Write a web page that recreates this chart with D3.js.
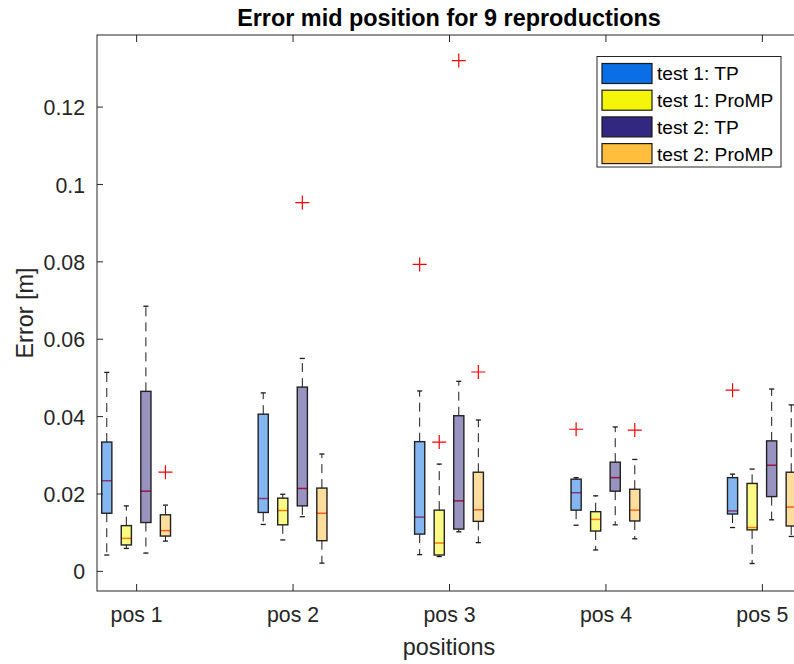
<!DOCTYPE html>
<html>
<head>
<meta charset="utf-8">
<script src="https://cdn.jsdelivr.net/npm/d3@7"></script>
<style>
  html, body { margin: 0; padding: 0; background: #fff; }
  svg { display: block; font-family: "Liberation Sans", Arial, Helvetica, sans-serif; }
</style>
</head>
<body>
<svg id="chart" width="794" height="664"></svg>
<script>
// Positions along the x axis
const positions = ["pos 1", "pos 2", "pos 3", "pos 4", "pos 5"];

// Series (one box per series at each position)
const seriesNames = ["test 1: TP", "test 1: ProMP", "test 2: TP", "test 2: ProMP"];
const seriesColors = ["#0a6ee6", "#f5f50a", "#322882", "#ffbe3c"];

// Box statistics per series, one value per position [m]
const test1TP_hi  = [0.0513, 0.0460, 0.0465, 0.0241, 0.0250];
const test1TP_q3  = [0.0333, 0.0405, 0.0334, 0.0237, 0.0241];
const test1TP_med = [0.0233, 0.0187, 0.0139, 0.0202, 0.0155];
const test1TP_q1  = [0.0149, 0.0151, 0.0095, 0.0157, 0.0147];
const test1TP_lo  = [0.0041, 0.0120, 0.0042, 0.0118, 0.0112];
const test1TP_out = [[], [], [0.0792], [0.0366], [0.0467]];

const test1ProMP_hi  = [0.0168, 0.0198, 0.0276, 0.0194, 0.0263];
const test1ProMP_q3  = [0.0117, 0.0188, 0.0157, 0.0153, 0.0226];
const test1ProMP_med = [0.0084, 0.0156, 0.0072, 0.0133, 0.0112];
const test1ProMP_q1  = [0.0067, 0.0119, 0.0041, 0.0103, 0.0106];
const test1ProMP_lo  = [0.0058, 0.0080, 0.0037, 0.0054, 0.0019];
const test1ProMP_out = [[], [], [0.0333], [], []];

const test2TP_hi  = [0.0684, 0.0549, 0.0490, 0.0372, 0.0470];
const test2TP_q3  = [0.0464, 0.0475, 0.0401, 0.0281, 0.0336];
const test2TP_med = [0.0206, 0.0213, 0.0181, 0.0241, 0.0273];
const test2TP_q1  = [0.0125, 0.0168, 0.0108, 0.0206, 0.0192];
const test2TP_lo  = [0.0046, 0.0140, 0.0101, 0.0119, 0.0132];
const test2TP_out = [[], [0.0952], [0.1319], [], []];

const test2ProMP_hi  = [0.0170, 0.0302, 0.0390, 0.0288, 0.0429];
const test2ProMP_q3  = [0.0145, 0.0214, 0.0255, 0.0211, 0.0255];
const test2ProMP_med = [0.0104, 0.0149, 0.0158, 0.0157, 0.0165];
const test2ProMP_q1  = [0.0090, 0.0078, 0.0128, 0.0129, 0.0116];
const test2ProMP_lo  = [0.0077, 0.0020, 0.0073, 0.0083, 0.0089];
const test2ProMP_out = [[0.0255], [], [0.0514], [0.0364], []];

const yTicks = [0, 0.02, 0.04, 0.06, 0.08, 0.1, 0.12];

const seriesStats = [
  {hi: test1TP_hi, q3: test1TP_q3, med: test1TP_med, q1: test1TP_q1, lo: test1TP_lo, out: test1TP_out},
  {hi: test1ProMP_hi, q3: test1ProMP_q3, med: test1ProMP_med, q1: test1ProMP_q1, lo: test1ProMP_lo, out: test1ProMP_out},
  {hi: test2TP_hi, q3: test2TP_q3, med: test2TP_med, q1: test2TP_q1, lo: test2TP_lo, out: test2TP_out},
  {hi: test2ProMP_hi, q3: test2ProMP_q3, med: test2ProMP_med, q1: test2ProMP_q1, lo: test2ProMP_lo, out: test2ProMP_out}
];

// Layout
const axL = 97, axR = 801, axT = 35, axB = 591;
const axisColor = "#262626";
const svg = d3.select("#chart");

const x = d3.scaleLinear().domain([0.75, 5.25]).range([axL, axR]);
const y = d3.scaleLinear().domain([-0.0052, 0.1385]).range([axB, axT]);

const offsets = [-0.1875, -0.0625, 0.0625, 0.1875];
const boxW = 0.065;

// Boxes
const plot = svg.append("g");
seriesStats.forEach((s, si) => {
  const g = plot.append("g");
  positions.forEach((p, pi) => {
    const cx = pi + 1 + offsets[si];
    const xl = x(cx - boxW / 2), xr = x(cx + boxW / 2), xc = x(cx);
    const capHalf = (xr - xl) / 4;
    // whiskers, dashed, from the box out to the adjacent values
    g.append("line").attr("x1", xc).attr("x2", xc)
      .attr("y1", y(s.q3[pi])).attr("y2", y(s.hi[pi]))
      .attr("stroke", "#1a1a1a").attr("stroke-width", 1).attr("stroke-dasharray", "9,6");
    g.append("line").attr("x1", xc).attr("x2", xc)
      .attr("y1", y(s.q1[pi])).attr("y2", y(s.lo[pi]))
      .attr("stroke", "#1a1a1a").attr("stroke-width", 1).attr("stroke-dasharray", "9,6");
    // adjacent value caps
    [s.hi[pi], s.lo[pi]].forEach(v => {
      g.append("line").attr("x1", xc - capHalf).attr("x2", xc + capHalf)
        .attr("y1", y(v)).attr("y2", y(v))
        .attr("stroke", "#1a1a1a").attr("stroke-width", 1.3);
    });
    // median line (red), seen through the translucent box patch
    g.append("line").attr("x1", xl).attr("x2", xr)
      .attr("y1", y(s.med[pi])).attr("y2", y(s.med[pi]))
      .attr("stroke", "#ff0000").attr("stroke-width", 1.5);
    // box patch
    g.append("rect").attr("x", xl).attr("y", y(s.q3[pi]))
      .attr("width", xr - xl).attr("height", y(s.q1[pi]) - y(s.q3[pi]))
      .attr("fill", seriesColors[si]).attr("fill-opacity", 0.5)
      .attr("stroke", "#222").attr("stroke-width", 1.4);
    // outliers
    s.out[pi].forEach(v => {
      const ox = xc, oy = y(v), r = 7;
      g.append("path")
        .attr("d", `M${ox - r},${oy}H${ox + r}M${ox},${oy - r}V${oy + r}`)
        .attr("stroke", "#ff0000").attr("stroke-width", 1.2).attr("fill", "none");
    });
  });
});

// Axes (MATLAB style: box on, ticks pointing inward)
const axes = svg.append("g");
axes.append("rect").attr("x", axL).attr("y", axT)
  .attr("width", axR - axL).attr("height", axB - axT)
  .attr("fill", "none").attr("stroke", axisColor).attr("stroke-width", 1);

const xAxis = d3.axisBottom(x).tickValues(d3.range(1, positions.length + 1))
  .tickFormat(d => positions[d - 1]).tickSize(-7).tickPadding(16);
const gx = axes.append("g").attr("transform", `translate(0,${axB})`).call(xAxis);
gx.select(".domain").remove();
gx.selectAll(".tick line").attr("stroke", axisColor);
gx.selectAll(".tick text").attr("font-size", "21.3px").attr("fill", "#262626").attr("dy", "0.71em");

const xTop = d3.axisTop(x).tickValues(d3.range(1, positions.length + 1)).tickFormat("").tickSize(-7);
const gxt = axes.append("g").attr("transform", `translate(0,${axT})`).call(xTop);
gxt.select(".domain").remove();
gxt.selectAll(".tick line").attr("stroke", axisColor);

const yAxis = d3.axisLeft(y).tickValues(yTicks).tickFormat(d => d3.format("")(d)).tickSize(-6).tickPadding(12);
const gy = axes.append("g").attr("transform", `translate(${axL},0)`).call(yAxis);
gy.select(".domain").remove();
gy.selectAll(".tick line").attr("stroke", axisColor);
gy.selectAll(".tick text").attr("font-size", "21.3px").attr("fill", "#262626").attr("dy", "0.38em");

const yRight = d3.axisRight(y).tickValues(yTicks).tickFormat("").tickSize(-6);
const gyr = axes.append("g").attr("transform", `translate(${axR},0)`).call(yRight);
gyr.select(".domain").remove();
gyr.selectAll(".tick line").attr("stroke", axisColor);

// Title and axis labels
svg.append("text").attr("x", (axL + axR) / 2).attr("y", 26)
  .attr("text-anchor", "middle").attr("font-size", "23.4px").attr("font-weight", "bold")
  .attr("fill", "#000").text("Error mid position for 9 reproductions");
svg.append("text").attr("x", (axL + axR) / 2).attr("y", 655)
  .attr("text-anchor", "middle").attr("font-size", "23.4px").attr("fill", "#262626").text("positions");
svg.append("text").attr("transform", `translate(33,${(axT + axB) / 2}) rotate(-90)`)
  .attr("text-anchor", "middle").attr("font-size", "23.4px").attr("fill", "#262626").text("Error [m]");

// Legend
const lg = svg.append("g");
lg.append("rect").attr("x", 597).attr("y", 56.5).attr("width", 184).attr("height", 110.5)
  .attr("fill", "#fff").attr("stroke", axisColor).attr("stroke-width", 1);
seriesNames.forEach((name, i) => {
  const rowY = 63.5 + i * 26.7;
  lg.append("rect").attr("x", 602).attr("y", rowY).attr("width", 50).attr("height", 20)
    .attr("fill", seriesColors[i]).attr("stroke", "#1a1a1a").attr("stroke-width", 1.2);
  lg.append("text").attr("x", 657).attr("y", rowY + 10).attr("dy", "0.36em")
    .attr("font-size", "19.2px").attr("fill", "#000").text(name);
});
</script>
</body>
</html>
